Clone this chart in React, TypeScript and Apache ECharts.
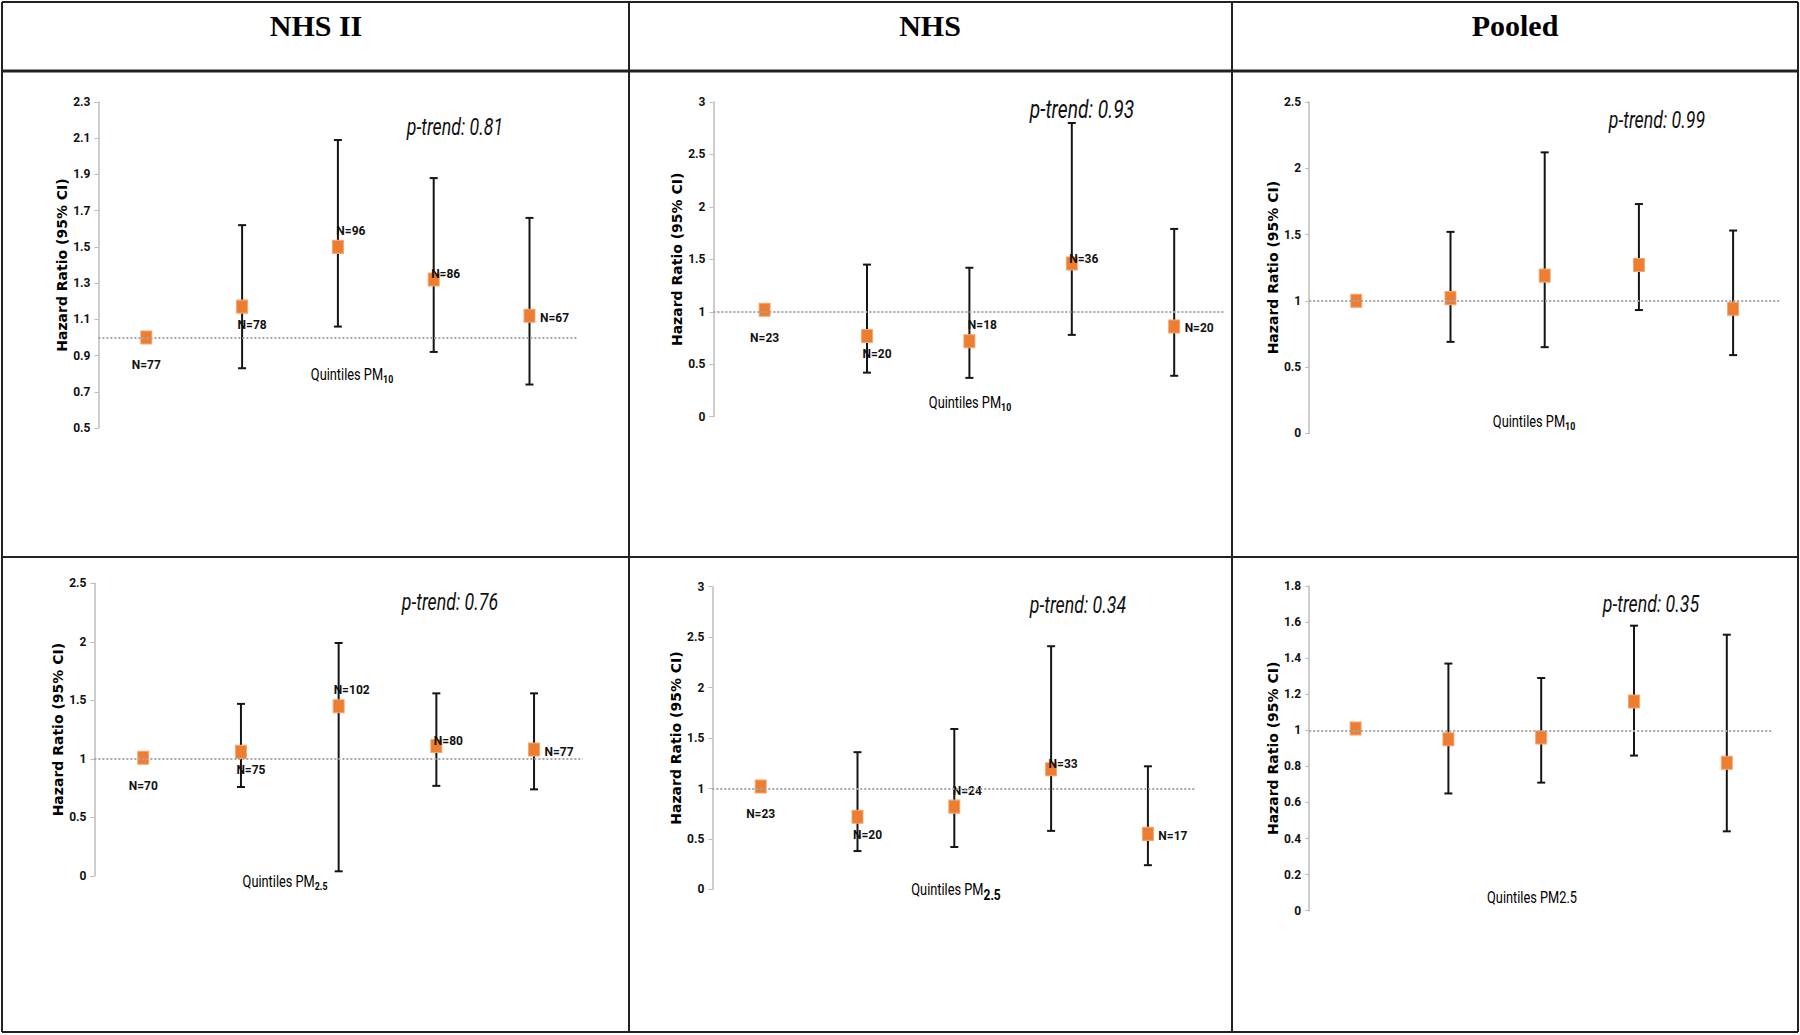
import React, { useEffect, useRef } from 'react';
import * as echarts from 'echarts';

// ---------------- DATA ----------------
const quintiles = ['Q1', 'Q2', 'Q3', 'Q4', 'Q5'];
const columnTitles = ['NHS II', 'NHS', 'Pooled'];

// Row 1: PM10
const nhs2Pm10HR = [1.0, 1.17, 1.5, 1.32, 1.12];
const nhs2Pm10Lo = [null, 0.83, 1.06, 0.92, 0.74];
const nhs2Pm10Hi = [null, 1.62, 2.09, 1.88, 1.66];
const nhs2Pm10N = [77, 78, 96, 86, 67];

const nhsPm10HR = [1.02, 0.77, 0.72, 1.46, 0.86];
const nhsPm10Lo = [null, 0.42, 0.37, 0.78, 0.39];
const nhsPm10Hi = [null, 1.45, 1.42, 2.8, 1.79];
const nhsPm10N = [23, 20, 18, 36, 20];

const pooledPm10HR = [1.0, 1.02, 1.19, 1.27, 0.94];
const pooledPm10Lo = [null, 0.69, 0.65, 0.93, 0.59];
const pooledPm10Hi = [null, 1.52, 2.12, 1.73, 1.53];

// Row 2: PM2.5
const nhs2Pm25HR = [1.01, 1.06, 1.45, 1.11, 1.08];
const nhs2Pm25Lo = [null, 0.76, 0.04, 0.77, 0.74];
const nhs2Pm25Hi = [null, 1.47, 1.99, 1.56, 1.56];
const nhs2Pm25N = [70, 75, 102, 80, 77];

const nhsPm25HR = [1.02, 0.72, 0.82, 1.19, 0.55];
const nhsPm25Lo = [null, 0.38, 0.42, 0.58, 0.24];
const nhsPm25Hi = [null, 1.36, 1.59, 2.41, 1.22];
const nhsPm25N = [23, 20, 24, 33, 17];

const pooledPm25HR = [1.01, 0.95, 0.96, 1.16, 0.82];
const pooledPm25Lo = [null, 0.65, 0.71, 0.86, 0.44];
const pooledPm25Hi = [null, 1.37, 1.29, 1.58, 1.53];

// y-axis tick labels
const ticksNhs2Pm10 = [0.5, 0.7, 0.9, 1.1, 1.3, 1.5, 1.7, 1.9, 2.1, 2.3];
const ticksNhsPm10 = [0, 0.5, 1, 1.5, 2, 2.5, 3];
const ticksPooledPm10 = [0, 0.5, 1, 1.5, 2, 2.5];
const ticksNhs2Pm25 = [0, 0.5, 1, 1.5, 2, 2.5];
const ticksNhsPm25 = [0, 0.5, 1, 1.5, 2, 2.5, 3];
const ticksPooledPm25 = [0, 0.2, 0.4, 0.6, 0.8, 1, 1.2, 1.4, 1.6, 1.8];

const pTrends = ['0.81', '0.93', '0.99', '0.76', '0.34', '0.35'];
const referenceHR = 1;

const yTitle = 'Hazard Ratio (95% CI)';

// ---------------- LAYOUT / STYLE ----------------
const NARROW = "'Liberation Sans Narrow', 'Arial Narrow', Roboto, sans-serif";
const ORANGE = '#ED7D31';

const panels = [
  { hr: nhs2Pm10HR, lo: nhs2Pm10Lo, hi: nhs2Pm10Hi, n: nhs2Pm10N, ticks: ticksNhs2Pm10,
    grid: { left: 98.4, top: 102, width: 479, height: 326 },
    pt: [455, 126, 24], xt: [352, 375], xtText: ['Quintiles PM', '10'], subStyle: 'sub' },
  { hr: nhsPm10HR, lo: nhsPm10Lo, hi: nhsPm10Hi, n: nhsPm10N, ticks: ticksNhsPm10,
    grid: { left: 713.4, top: 102, width: 512, height: 314.7 },
    pt: [1082, 109, 26], xt: [970, 403], xtText: ['Quintiles PM', '10'], subStyle: 'sub' },
  { hr: pooledPm10HR, lo: pooledPm10Lo, hi: pooledPm10Hi, n: null, ticks: ticksPooledPm10,
    grid: { left: 1309.2, top: 102, width: 471, height: 331.3 },
    pt: [1657, 119, 24], xt: [1534, 422], xtText: ['Quintiles PM', '10'], subStyle: 'sub' },
  { hr: nhs2Pm25HR, lo: nhs2Pm25Lo, hi: nhs2Pm25Hi, n: nhs2Pm25N, ticks: ticksNhs2Pm25,
    grid: { left: 94.4, top: 583.3, width: 488.5, height: 292.7 },
    pt: [450, 601, 24], xt: [285, 882], xtText: ['Quintiles PM', '2.5'], subStyle: 'sub' },
  { hr: nhsPm25HR, lo: nhsPm25Lo, hi: nhsPm25Hi, n: nhsPm25N, ticks: ticksNhsPm25,
    grid: { left: 712.3, top: 586.7, width: 484, height: 302.7 },
    pt: [1078, 604, 24], xt: [956, 890], xtText: ['Quintiles PM', '2.5'], subStyle: 'subBig' },
  { hr: pooledPm25HR, lo: pooledPm25Lo, hi: pooledPm25Hi, n: null, ticks: ticksPooledPm25,
    grid: { left: 1309.2, top: 586, width: 464, height: 324.7 },
    pt: [1651, 603, 24], xt: [1532, 898], xtText: ['Quintiles PM2.5', ''], subStyle: 'sub' },
];

// label offsets (relative to marker centre) for quintile 1..5
const LABEL_OFFSETS = [[0, 28], [10, 18], [13, -16], [12, -5], [25, 2]];

function buildOption() {
  const grids: any[] = [];
  const xAxes: any[] = [];
  const yAxes: any[] = [];
  const series: any[] = [];
  const graphics: any[] = [];

  panels.forEach((p, i) => {
    grids.push({ ...p.grid, outerBoundsMode: 'none', containLabel: false });
    xAxes.push({
      type: 'category', gridIndex: i, data: quintiles, boundaryGap: true,
      axisLine: { show: false }, axisTick: { show: false }, axisLabel: { show: false },
      splitLine: { show: false },
    });
    const ticks = p.ticks;
    yAxes.push({
      type: 'value', gridIndex: i, min: ticks[0], max: ticks[ticks.length - 1],
      axisLine: { show: true, lineStyle: { color: '#BDBDBD', width: 1.5 } },
      axisTick: { show: true, length: 4, customValues: ticks, lineStyle: { color: '#BDBDBD' } },
      axisLabel: { customValues: ticks, color: '#111', fontFamily: NARROW, fontSize: 12, fontWeight: 'bold', margin: 8 },
      splitLine: { show: false },
      name: yTitle, nameLocation: 'middle', nameRotate: 90, nameGap: 29,
      nameTextStyle: { fontFamily: 'DejaVu Sans', fontWeight: 'bold', fontSize: 14, color: '#000' },
    });

    const ciData: any[] = [];
    quintiles.forEach((q, j) => {
      if (p.lo[j] != null && p.hi[j] != null) ciData.push([j, p.lo[j], p.hi[j]]);
    });

    series.push({
      type: 'custom', xAxisIndex: i, yAxisIndex: i, data: ciData, z: 2,
      encode: { x: 0, y: [1, 2] },
      renderItem: (params: any, api: any) => {
        const x = api.value(0);
        const pLo = api.coord([x, api.value(1)]);
        const pHi = api.coord([x, api.value(2)]);
        const cap = 4;
        const style = { stroke: '#151515', lineWidth: 2 };
        return {
          type: 'group',
          children: [
            { type: 'line', shape: { x1: pLo[0], y1: pLo[1], x2: pHi[0], y2: pHi[1] }, style },
            { type: 'line', shape: { x1: pLo[0] - cap, y1: pLo[1], x2: pLo[0] + cap, y2: pLo[1] }, style },
            { type: 'line', shape: { x1: pHi[0] - cap, y1: pHi[1], x2: pHi[0] + cap, y2: pHi[1] }, style },
          ],
        };
      },
    });

    series.push({
      type: 'scatter', xAxisIndex: i, yAxisIndex: i, z: 3,
      symbol: 'rect', symbolSize: [11, 13],
      itemStyle: { color: ORANGE, borderColor: '#F3A56E', borderWidth: 1, opacity: 1 },
      label: {
        show: !!p.n, position: 'inside', color: '#111', fontFamily: NARROW, fontSize: 12,
        fontWeight: 'bold', align: 'center', verticalAlign: 'middle',
      },
      data: p.hr.map((v, j) => ({
        value: [j, v],
        label: p.n ? { show: true, formatter: 'N=' + p.n[j], offset: LABEL_OFFSETS[j] } : { show: false },
      })),
      markLine: {
        silent: true, symbol: 'none', animation: false,
        label: { show: false },
        lineStyle: { color: '#A6A6A6', type: 'dotted', width: 2 },
        data: [{ yAxis: referenceHR }],
      },
    });

    // p-trend annotation (condensed)
    graphics.push({
      type: 'text', x: p.pt[0], y: p.pt[1], z: 10, scaleX: 0.74,
      style: {
        text: 'p-trend: ' + pTrends[i], fontFamily: NARROW, fontStyle: 'italic',
        fontSize: p.pt[2], fill: '#111', align: 'center', verticalAlign: 'middle',
      },
    });
    // x-axis title (condensed)
    graphics.push({
      type: 'text', x: p.xt[0], y: p.xt[1], z: 10, scaleX: 0.8,
      style: {
        text: '{a|' + p.xtText[0] + '}' + (p.xtText[1] ? '{' + p.subStyle + '|' + p.xtText[1] + '}' : ''),
        align: 'center', verticalAlign: 'middle',
        rich: {
          a: { fontFamily: NARROW, fontSize: 16, color: '#111' },
          sub: { fontFamily: NARROW, fontSize: 11, fontWeight: 'bold', color: '#111', padding: [8, 0, 0, 0] },
          subBig: { fontFamily: NARROW, fontSize: 15, fontWeight: 'bold', color: '#111', padding: [9, 0, 0, 0] },
        },
      },
    });
  });

  // table lines
  const lineStyle = { stroke: '#222', lineWidth: 2 };
  const hLines = [[2, 2], [71, 3], [557, 2], [1032, 2]];
  hLines.forEach(([y, w]) => graphics.push({
    type: 'line', z: 20, shape: { x1: 2, y1: y, x2: 1798, y2: y }, style: { ...lineStyle, lineWidth: w },
  }));
  [2, 629, 1232, 1798].forEach((x) => graphics.push({
    type: 'line', z: 20, shape: { x1: x, y1: 2, x2: x, y2: 1032 }, style: lineStyle,
  }));
  const colCenters = [316, 930, 1515];
  columnTitles.forEach((t, k) => graphics.push({
    type: 'text', x: colCenters[k], y: 25, z: 20,
    style: {
      text: t, fontFamily: "'Liberation Serif', 'Times New Roman', serif", fontWeight: 'bold',
      fontSize: 30, fill: '#000', align: 'center', verticalAlign: 'middle',
    },
  }));

  return {
    animation: false,
    backgroundColor: '#ffffff',
    grid: grids,
    xAxis: xAxes,
    yAxis: yAxes,
    series,
    graphic: graphics,
  };
}

export default function App() {
  const ref = useRef<HTMLDivElement>(null);
  useEffect(() => {
    if (!ref.current) return;
    const chart = echarts.init(ref.current, null, { renderer: 'svg' });
    chart.setOption(buildOption() as any);
    return () => chart.dispose();
  }, []);
  return (
    <div
      ref={ref}
      style={{ position: 'absolute', left: 0, top: 0, width: 1800, height: 1035, background: '#fff' }}
    />
  );
}
